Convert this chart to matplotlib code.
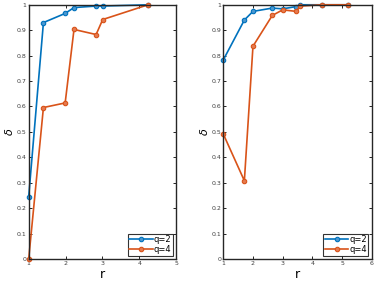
import matplotlib.pyplot as plt
from matplotlib.ticker import FuncFormatter

# left panel
r_left = [1.0, 1.40, 1.99, 2.23, 2.83, 3.01, 4.24]
q2_left = [0.245, 0.930, 0.966, 0.989, 0.995, 0.995, 1.0]
q4_left = [0.0, 0.596, 0.614, 0.903, 0.883, 0.942, 1.0]

# right panel
r_right = [1.0, 1.71, 2.0, 2.65, 3.0, 3.46, 3.59, 4.33, 5.19]
q2_right = [0.783, 0.940, 0.974, 0.987, 0.984, 0.993, 1.0, 1.0, 1.0]
q4_right = [0.492, 0.308, 0.837, 0.958, 0.980, 0.974, 0.995, 1.0, 1.0]

blue = '#0072BD'
orange = '#D95319'

fig = plt.figure(figsize=(3.74, 2.81), dpi=100)
ax1 = fig.add_axes([0.0767, 0.078, 0.394, 0.905])
ax2 = fig.add_axes([0.597, 0.078, 0.397, 0.905])

fmt = FuncFormatter(lambda v, p: '%g' % round(v, 2))

for ax, r, a, b, xmax in [(ax1, r_left, q2_left, q4_left, 5), (ax2, r_right, q2_right, q4_right, 6)]:
    ax.plot(r, a, '-o', color=blue, lw=1.2, ms=3.2, mew=0.8, mfc='#4a97d0',
            clip_on=False, label='q=2')
    ax.plot(r, b, '-o', color=orange, lw=1.2, ms=3.2, mew=0.8, mfc='#e57a4f',
            clip_on=False, label='q=4')
    ax.set_xlim(1, xmax)
    ax.set_ylim(0, 1)
    ax.set_xticks(range(1, xmax + 1))
    ax.set_yticks([i / 10 for i in range(11)])
    ax.yaxis.set_major_formatter(fmt)
    ax.tick_params(direction='in', top=True, right=True, length=2.5, width=0.6,
                   labelsize=4.5, labelcolor='#404040', pad=1.5)
    for s in ax.spines.values():
        s.set_linewidth(1.0)
        s.set_color('#262626')
    ax.set_xlabel('r', fontsize=9, labelpad=1)
    ax.set_ylabel(r'$\delta$', fontsize=8, labelpad=1)
    leg = ax.legend(loc='lower right', fontsize=6, fancybox=False, edgecolor='black',
                    handlelength=2.8, borderpad=0.2, labelspacing=0.1, handletextpad=0.1,
                    borderaxespad=0.4)
    leg.get_frame().set_linewidth(0.8)

fig.savefig('out.png', dpi=100)
